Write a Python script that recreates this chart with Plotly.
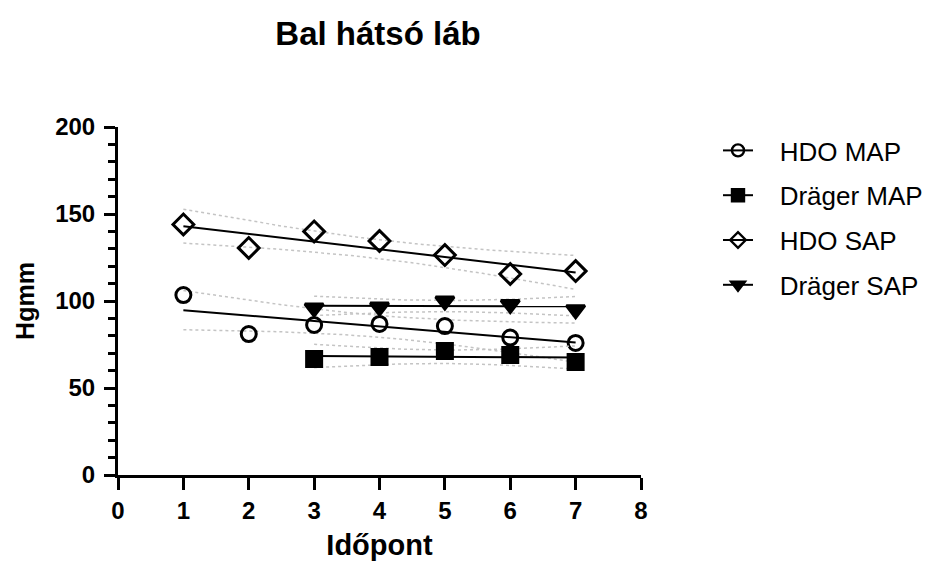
import numpy as np
import plotly.graph_objects as go

# ---- data ----
x_hdo = [1, 2, 3, 4, 5, 6, 7]
x_drager = [3, 4, 5, 6, 7]
hdo_map = [103.4, 81, 86.2, 86.8, 85.6, 79, 75.9]
drager_map = [66.7, 67.8, 71.3, 69, 65]
hdo_sap = [144, 130.5, 140, 134.5, 126.4, 115.5, 117.2]
drager_sap = [96, 96.5, 100, 98, 95]

series_names = ["HDO MAP", "Dräger MAP", "HDO SAP", "Dräger SAP"]
series_x = [x_hdo, x_drager, x_hdo, x_drager]
series_y = [hdo_map, drager_map, hdo_sap, drager_sap]
symbols = ["circle-open", "square", "diamond-open", "triangle-down"]
sizes = [15, 15, 16, 16]

T95 = {3: 3.182, 5: 2.571}

fig = go.Figure()

for i, (name, xs, ys, sym, sz) in enumerate(zip(series_names, series_x, series_y, symbols, sizes)):
    xa = np.array(xs, float)
    ya = np.array(ys, float)
    n = len(xa)
    slope, icpt = np.polyfit(xa, ya, 1)
    resid = ya - (slope * xa + icpt)
    s = np.sqrt(np.sum(resid ** 2) / (n - 2))
    xbar = xa.mean()
    sxx = np.sum((xa - xbar) ** 2)
    xd = np.linspace(xa.min(), xa.max(), 60)
    yd = slope * xd + icpt
    half = T95[n - 2] * s * np.sqrt(1 / n + (xd - xbar) ** 2 / sxx)
    for band in (yd + half, yd - half):
        fig.add_trace(go.Scatter(x=xd, y=band, mode="lines", showlegend=False,
                                 hoverinfo="skip",
                                 line=dict(color="#c4c4c4", width=1.5, dash="dot")))
    fig.add_trace(go.Scatter(x=xd, y=yd, mode="lines", showlegend=False,
                             line=dict(color="black", width=2)))
    fig.add_trace(go.Scatter(x=xs, y=ys, mode="markers", showlegend=False,
                             marker=dict(symbol=sym, size=sz, color="black",
                                         line=dict(color="black", width=3))))
    # legend entry
    fig.add_trace(go.Scatter(x=[None], y=[None], mode="lines+markers",
                             name="\u00a0\u00a0\u00a0" + name,
                             legendgroup="g%d" % i,
                             line=dict(color="black", width=2),
                             marker=dict(symbol=sym, size=12, color="black",
                                         line=dict(color="black", width=2.4))))

fig.update_layout(
    width=942, height=566,
    paper_bgcolor="white", plot_bgcolor="white",
    margin=dict(l=118, r=301, t=127, b=91),
    title=dict(text="<b>Bal hátsó láb</b>", x=378 / 942,
               xanchor="center", y=1 - 33 / 566, yanchor="middle",
               font=dict(family="Liberation Sans", size=33, color="black")),
    font=dict(family="Liberation Sans", color="black"),
    legend=dict(x=(718 - 118) / 523, xanchor="left", y=1.0, yanchor="top",
                font=dict(family="Liberation Sans", size=26, color="black"),
                itemwidth=30, tracegroupgap=8, bgcolor="rgba(0,0,0,0)"),
    xaxis=dict(range=[0, 8], tickvals=list(range(0, 9)), showgrid=False, zeroline=False,
               showline=True, linecolor="black", linewidth=3, automargin=False,
               ticks="outside", ticklen=12, tickwidth=3, tickcolor="black",
               tickfont=dict(family="Liberation Sans", size=24, color="black", weight="bold"),
               title=dict(text="<b>Időpont</b>", standoff=12,
                          font=dict(family="Liberation Sans", size=29, color="black"))),
    yaxis=dict(range=[0, 200], tickvals=[0, 50, 100, 150, 200], showgrid=False, zeroline=False,
               showline=True, linecolor="black", linewidth=3, automargin=False,
               ticks="outside", ticklen=11, tickwidth=3, tickcolor="black",
               ticklabelstandoff=4,
               minor=dict(dtick=10, ticks="outside", ticklen=7, tickwidth=2.5, tickcolor="black"),
               tickfont=dict(family="Liberation Sans", size=24, color="black", weight="bold"),
               title=dict(text="<b>Hgmm</b>", standoff=14,
                          font=dict(family="Liberation Sans", size=25, color="black"))),
)

fig.write_html("out.html")
